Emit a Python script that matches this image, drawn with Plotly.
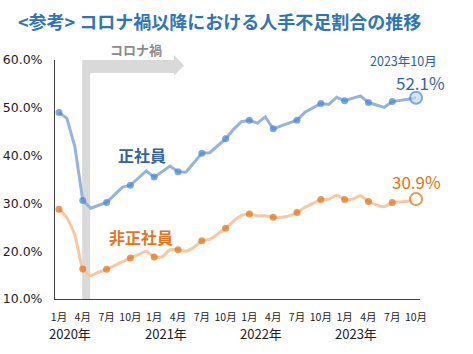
import plotly.graph_objects as go

# Monthly data, Jan 2020 .. Oct 2023
months = [f"{y}-{m:02d}" for y in range(2020, 2024) for m in range(1, 13)][:46]
regular = [49.0, 47.8, 41.9, 30.6, 29.0, 29.6, 30.2, 31.8, 33.4, 33.8, 35.3, 36.8,
           35.5, 36.6, 37.8, 36.6, 36.5, 38.5, 40.5, 40.6, 42.0, 43.5, 45.5, 47.1,
           47.4, 46.8, 48.1, 45.6, 46.2, 46.8, 47.4, 49.1, 50.0, 50.9, 50.7, 52.2,
           51.5, 52.0, 52.5, 51.1, 50.6, 50.1, 51.3, 51.5, 51.8, 52.1]
nonregular = [28.8, 27.0, 23.4, 16.3, 14.9, 15.6, 16.2, 17.0, 17.8, 18.6, 19.3, 20.0,
              18.8, 18.8, 20.3, 20.3, 20.0, 20.8, 22.2, 22.5, 23.6, 24.8, 26.3, 27.5,
              27.8, 27.4, 27.4, 27.1, 27.1, 27.4, 28.1, 29.2, 30.0, 30.8, 30.9, 31.7,
              30.8, 30.9, 31.6, 30.4, 29.7, 29.3, 30.2, 30.3, 30.5, 30.9]
tick_text = ["1月", "4月", "7月", "10月"] * 4
years = ["2020年", "2021年", "2022年", "2023年"]
yticks = [10, 20, 30, 40, 50, 60]

FONT = "Noto Sans CJK JP"
x = list(range(len(months)))
qx = x[::3]
n_q = len(qx)

fig = go.Figure()

BLUE_LINE = "#94B4DE"
BLUE_MK = "#4A86D0"
OR_LINE = "#F7C8A2"
OR_MK = "#E2700F"

def add_series(vals, lc, mc, last_fill, shape):
    fig.add_trace(go.Scatter(x=x, y=vals, mode="lines", cliponaxis=False,
                             line=dict(color=lc, width=3, shape=shape, smoothing=0.5),
                             hoverinfo="skip", showlegend=False))
    qv = vals[::3]
    sizes = [7] * (n_q - 1) + [12]
    fills = [mc] * (n_q - 1) + [last_fill]
    lw = [0] * (n_q - 1) + [2]
    fig.add_trace(go.Scatter(x=qx, y=qv, mode="markers", cliponaxis=False,
                             marker=dict(size=sizes, color=fills,
                                         line=dict(color=mc, width=lw)),
                             showlegend=False))

add_series(regular, BLUE_LINE, BLUE_MK, "#C6D9F1", "linear")
add_series(nonregular, OR_LINE, OR_MK, "#FFFFFF", "spline")

# Corona arrow shape (x in months, y in paper)
x0, x1 = 2.93, 3.93
xb, xt = 14.5, 15.75
path = (f"M {x0},0 L {x0},1.0 L {xb},1.0 L {xb},1.021 L {xt},0.977 "
        f"L {xb},0.933 L {xb},0.946 L {x1},0.946 L {x1},0 Z")
fig.add_shape(type="path", path=path, xref="x", yref="paper",
              fillcolor="#D9D9D9", line=dict(width=0), layer="below")

ann = []
def add_ann(text, xr, yr, xv, yv, font, xanchor="center"):
    ann.append(dict(text=text, xref=xr, yref=yr, x=xv, y=yv, xanchor=xanchor,
                    yanchor="middle", showarrow=False, font=font))

add_ann("&lt;参考&gt; コロナ禍以降における人手不足割合の推移", "paper", "paper", -0.108, 1.163,
        dict(family=FONT, size=18, color="#2F75B5", weight="bold"), xanchor="left")
add_ann("コロナ禍", "x", "paper", 9.7, 1.042,
        dict(family=FONT, size=13, color="#8C8C8C", weight="bold"))
add_ann("正社員", "x", "y", 10.5, 40.1,
        dict(family=FONT, size=16, color="#35639E", weight="bold"))
add_ann("非正社員", "x", "y", 10.4, 22.9,
        dict(family=FONT, size=16, color="#E2761F", weight="bold"))
add_ann("2023年10月", "x", "y", 43.4, 59.9, dict(family=FONT, size=12.5, color="#2F5F9A"))
add_ann("52.1%", "x", "y", 45.5, 55.2, dict(family=FONT, size=17, color="#3464A4"))
add_ann("30.9%", "x", "y", 45.0, 34.5, dict(family=FONT, size=17, color="#E2700F"))
for i, yr in enumerate(years):
    add_ann(yr, "x", "paper", 1.45 + 12 * i, -0.146,
            dict(family=FONT, size=13, color="#222222"))

fig.update_layout(
    width=473, height=354,
    margin=dict(l=55, r=53, t=60, b=55),
    paper_bgcolor="white", plot_bgcolor="white",
    annotations=ann,
    font=dict(family=FONT, color="#222222"),
    xaxis=dict(range=[-0.5, 45.5], tickvals=qx, ticktext=tick_text,
               showgrid=False, zeroline=False, showline=True, linecolor="#404040",
               linewidth=1, ticks="", ticklabelstandoff=8, automargin=False,
               tickfont=dict(size=10.5, color="#222222")),
    yaxis=dict(range=[10, 60], tickvals=yticks,
               ticktext=[f"{v:.1f}%" for v in yticks],
               showgrid=False, zeroline=False, showline=True, linecolor="#404040",
               linewidth=1, ticks="", ticklabelstandoff=9, automargin=False,
               tickfont=dict(family="DejaVu Sans", size=12.5, color="#222222")),
)

fig.write_html("out.html")
